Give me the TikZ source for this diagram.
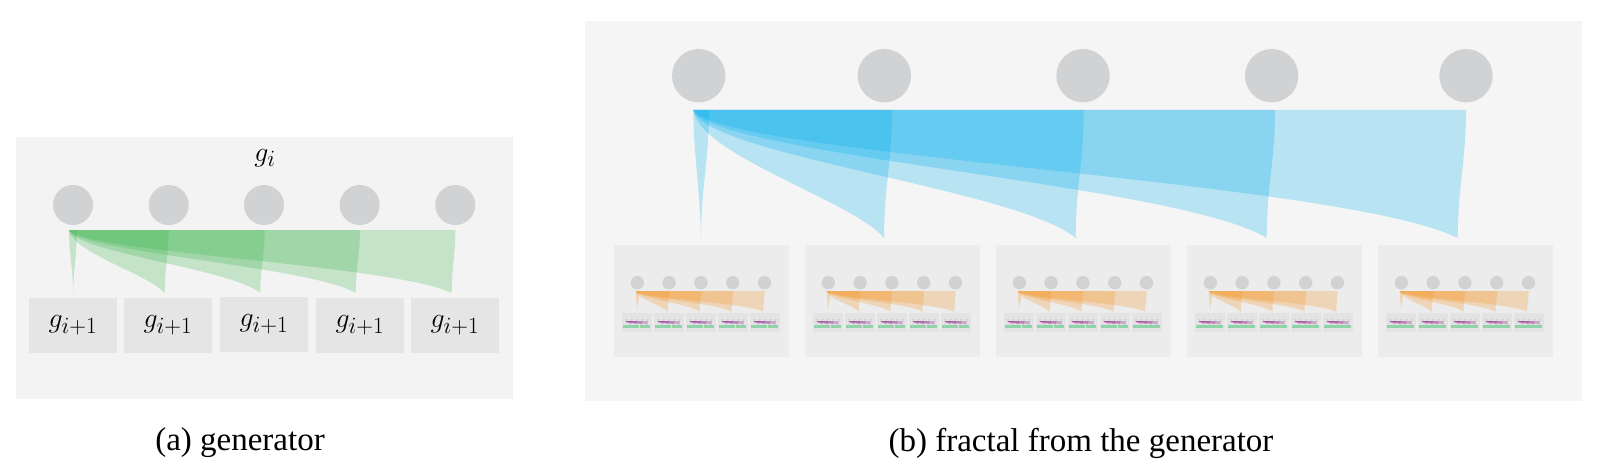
\documentclass[tikz,border=0pt]{standalone}
\usepackage{fontspec}
\setmainfont{Liberation Serif}
\definecolor{panelA}{HTML}{F3F3F3}
\definecolor{panelB}{HTML}{F5F5F5}
\definecolor{boxA}{HTML}{E5E5E5}
\definecolor{boxB}{HTML}{ECECEC}
\definecolor{boxC}{HTML}{E3E3E3}
\definecolor{dotgray}{HTML}{D1D2D4}
\definecolor{fanblue}{HTML}{00AEEF}
\definecolor{fangreen}{HTML}{39B54A}
\definecolor{fanorange}{HTML}{F7941D}
\definecolor{fanpurple}{HTML}{92278F}
\definecolor{leafgreen}{HTML}{8FD3A9}

% one band of a fan: x0, ytop, xright, xtip, ybottom, style, depth of lower curve
\newcommand{\fanband}[7]{%
  \fill[#6] (#1,#2) -- (#3,#2)
    .. controls (#3,{#2+0.4*(#5-#2)}) and (#4,{#2+0.6*(#5-#2)}) .. (#4,#5)
    .. controls ({#1+0.85*(#4-#1)},{#2+#7*(#5-#2)}) and ({#1+0.03*(#4-#1)},{#2+0.35*(#5-#2)}) .. (#1,#2) -- cycle;}

% fan of a generator drawn in a 175 x 112 frame
\newcommand{\genfan}[1]{%
  \fanband{21.7}{46}{25.7}{23}{66.7}{#1}{0.6}
  \fanband{21.7}{46}{55.3}{53.8}{66.7}{#1}{0.72}
  \fanband{21.7}{46}{87}{85.5}{66.7}{#1}{0.62}
  \fanband{21.7}{46}{119}{117.5}{66.7}{#1}{0.58}
  \fanband{21.7}{46}{150.7}{149.2}{66.7}{#1}{0.55}}

\newcommand{\tinygen}{%
  \foreach \j in {0,...,4}{\fill[dotgray] ({23.3+31.8*\j},37.7) circle (6.7);}
  \genfan{fanpurple,fill opacity=0.3}
  \foreach \j in {0,...,4}{\fill[leafgreen] ({8+32*\j},68.3) rectangle ++(30,18.4);}}

\newcommand{\smallgen}{%
  \foreach \k in {0,...,4}{\fill[dotgray] ({23.3+31.8*\k},37.7) circle (6.7);}
  \genfan{fanorange,fill opacity=0.25}
  \foreach \k in {0,...,4}{%
    \fill[boxC] ({8+32*\k},68.3) rectangle ++(30,18.4);
    \begin{scope}[shift={({8+32*\k},68.3)},scale=0.1714]\tinygen\end{scope}}}

\newcommand{\bigmath}[1]{\scalebox{1.12}{\Huge$#1$}}

\tikzset{
  bigdot/.style={circle,fill=dotgray,draw=none,inner sep=0pt,minimum size=40pt},
  hugedot/.style={circle,fill=dotgray,draw=none,inner sep=0pt,minimum size=53.4pt},
  gbox/.style={rectangle,fill=boxA,draw=none,inner sep=0pt,minimum width=88pt,minimum height=55pt},
  sbox/.style={rectangle,fill=boxB,draw=none,inner sep=0pt,minimum width=175pt,minimum height=112pt},
  caption/.style={font=\fontsize{33}{38}\selectfont,inner sep=0pt},
  greenband/.style={fill=fangreen,fill opacity=0.25},
  blueband/.style={fill=fanblue,fill opacity=0.25}
}

\begin{document}
\begin{tikzpicture}[x=1pt,y=-1pt]
\useasboundingbox (0,0) rectangle (1597,476);

% ---------- (a) generator ----------
\fill[panelA] (16,137) rectangle (513,399);
\node[inner sep=0pt] (gi) at (265,158) {\bigmath{g_i}};
\foreach \x [count=\n] in {73,168.7,264,359.7,455.3}
  \node[bigdot] (a\n) at (\x,205) {};
\fanband{69}{230}{77}{73.3}{293}{greenband}{0.6}
\fanband{69}{230}{168.7}{164.7}{293}{greenband}{0.72}
\fanband{69}{230}{264.7}{260.3}{293}{greenband}{0.62}
\fanband{69}{230}{360}{355.7}{293}{greenband}{0.58}
\fanband{69}{230}{455.3}{451.7}{293}{greenband}{0.55}
\node[gbox] (b1) at (73,325.5) {\bigmath{g_{i+1}}};
\node[gbox] (b2) at (168,325.5) {\bigmath{g_{i+1}}};
\node[gbox] (b3) at (264,324.5) {\bigmath{g_{i+1}}};
\node[gbox] (b4) at (360,325.5) {\bigmath{g_{i+1}}};
\node[gbox] (b5) at (455,325.5) {\bigmath{g_{i+1}}};
\node[caption] (capa) at (240,443) {(a) generator};

% ---------- (b) fractal ----------
\fill[panelB] (585,21) rectangle (1582,401);
\foreach \x [count=\n] in {698.7,884.3,1083,1271.7,1466}
  \node[hugedot] (c\n) at (\x,75.7) {};
\fanband{693.3}{110}{709}{701}{238}{blueband}{0.6}
\fanband{693.3}{110}{892}{884}{238}{blueband}{0.72}
\fanband{693.3}{110}{1083.7}{1075.7}{238}{blueband}{0.62}
\fanband{693.3}{110}{1275}{1266.7}{238}{blueband}{0.58}
\fanband{693.3}{110}{1466}{1457.7}{238}{blueband}{0.55}
\foreach \i in {0,...,4}{
  \node[sbox] (s\i) at ({614+191*\i+87.5},301) {};
  \begin{scope}[shift={({614+191*\i},245)}]\smallgen\end{scope}
}
\node[caption] (capb) at (1081,443) {(b) fractal from the generator};
\end{tikzpicture}
\end{document}
